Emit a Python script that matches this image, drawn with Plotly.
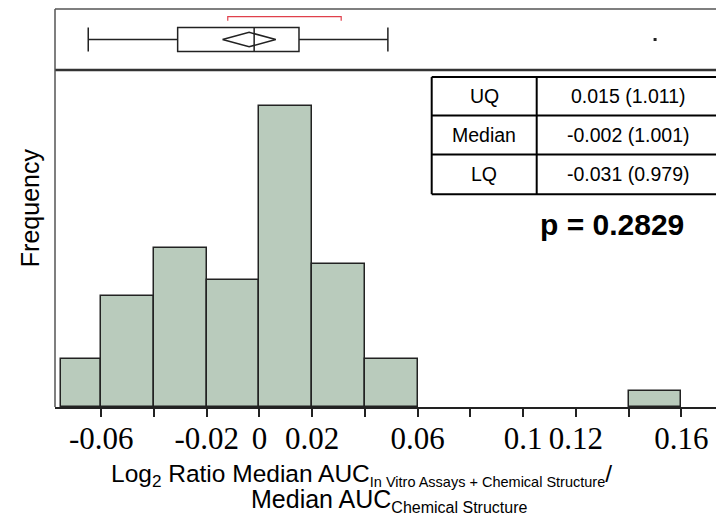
import plotly.graph_objects as go

# Histogram of log2 ratios (bin edges and counts)
bin_left = [-0.0752, -0.06, -0.04, -0.02, 0.00, 0.02, 0.04, 0.14]
bin_right = [-0.06, -0.04, -0.02, 0.00, 0.02, 0.04, 0.06, 0.16]
counts = [3, 7, 10, 8, 19, 9, 3, 1]

# Outlier box plot summary
lower_whisker = -0.0649
lq = -0.031
median = -0.002
uq = 0.015
upper_whisker = 0.0487
outliers = [0.150]
mean_ci = [-0.014, -0.0039, 0.0062]      # lower CI, mean, upper CI
shortest_half = [-0.012, 0.031]

# Axis ticks
tick_vals = [-0.06, -0.04, -0.02, 0.0, 0.02, 0.04, 0.06, 0.08, 0.10, 0.12, 0.14, 0.16]
tick_text = ["-0.06", "", "-0.02", "0", "0.02", "", "0.06", "", "0.1", "0.12", "", "0.16"]

# Summary table
row_names = ["UQ", "Median", "LQ"]
row_values = ["0.015 (1.011)", "-0.002 (1.001)", "-0.031 (0.979)"]
p_text = "p = 0.2829"

W, H = 716, 531
L, R, T, B = 55, 716, 9, 406.7
SEP = 70.0


def px(xp):
    return (xp - L) / (R - L)


def py(yp):
    return (B - yp) / (B - T)


centers = [(a + b) / 2 for a, b in zip(bin_left, bin_right)]
widths = [b - a for a, b in zip(bin_left, bin_right)]

fig = go.Figure()

fig.add_trace(go.Bar(
    x=centers, y=counts, width=widths,
    marker=dict(color="#b9cbbc", line=dict(color="#222222", width=1.5)),
    xaxis="x", yaxis="y", showlegend=False, hoverinfo="skip",
))

fig.add_trace(go.Box(
    orientation="h", y=[0],
    q1=[lq], median=[median], q3=[uq],
    lowerfence=[lower_whisker], upperfence=[upper_whisker],
    fillcolor="white", line=dict(color="#222222", width=1.5),
    whiskerwidth=1, width=0.79, boxpoints=False,
    xaxis="x", yaxis="y2", showlegend=False, hoverinfo="skip",
))

# mean diamond
lo, mu, hi = mean_ci
fig.add_trace(go.Scatter(
    x=[lo, mu, hi, mu, lo], y=[0, 0.236, 0, -0.236, 0],
    mode="lines", line=dict(color="#222222", width=1.5),
    xaxis="x", yaxis="y2", showlegend=False, hoverinfo="skip",
))

# shortest half bracket
fig.add_trace(go.Scatter(
    x=[shortest_half[0], shortest_half[0], shortest_half[1], shortest_half[1]],
    y=[0.616, 0.748, 0.748, 0.616],
    mode="lines", line=dict(color="#e0404c", width=1.2),
    xaxis="x", yaxis="y2", showlegend=False, hoverinfo="skip",
))

fig.add_trace(go.Scatter(
    x=outliers, y=[0] * len(outliers), mode="markers",
    marker=dict(symbol="square", size=3, color="#222222"),
    xaxis="x", yaxis="y2", showlegend=False, hoverinfo="skip",
))

split = py(SEP)
x_lo = -0.0775
x_hi = x_lo + (R - L) / 2637.7

fig.update_layout(
    width=W, height=H,
    margin=dict(l=L, r=W - R, t=T, b=H - B),
    plot_bgcolor="white", paper_bgcolor="white",
    bargap=0,
    xaxis=dict(
        range=[x_lo, x_hi], tickvals=tick_vals, ticktext=tick_text,
        ticks="outside", ticklen=8, tickwidth=1.5, tickcolor="#222222",
        showline=True, linecolor="#222222", linewidth=2,
        showgrid=False, zeroline=False,
        tickfont=dict(family="Liberation Serif", size=31, color="black"),
        ticklabelstandoff=-5,
        anchor="y",
    ),
    yaxis=dict(domain=[0, split], range=[0, 21.26], showticklabels=False,
               showgrid=False, zeroline=False, ticks=""),
    yaxis2=dict(domain=[split, 1], range=[-1, 1], showticklabels=False,
                showgrid=False, zeroline=False, ticks=""),
)

shapes = [
    dict(type="line", xref="paper", yref="paper", x0=0, x1=1, y0=1, y1=1,
         line=dict(color="#555555", width=1.5)),
    dict(type="line", xref="paper", yref="paper", x0=0, x1=1, y0=split, y1=split,
         line=dict(color="#333333", width=2.5)),
    dict(type="line", xref="paper", yref="paper", x0=0, x1=0, y0=0, y1=1,
         line=dict(color="#555555", width=1.5)),
]

# summary table grid
tx0, tx1, tx2 = 431.7, 536.7, 720
rows_y = [77, 115.5, 154.5, 194]
for yy in rows_y:
    shapes.append(dict(type="line", xref="paper", yref="paper",
                       x0=px(tx0), x1=px(tx2), y0=py(yy), y1=py(yy),
                       line=dict(color="black", width=2)))
for xx in (tx0, tx1):
    shapes.append(dict(type="line", xref="paper", yref="paper",
                       x0=px(xx), x1=px(xx), y0=py(rows_y[0]), y1=py(rows_y[-1]),
                       line=dict(color="black", width=2)))
fig.update_layout(shapes=shapes)

ann = []
for i, (nm, val) in enumerate(zip(row_names, row_values)):
    yc = (rows_y[i] + rows_y[i + 1]) / 2
    ann.append(dict(text=nm, x=px(484), y=py(yc), xref="paper", yref="paper",
                    showarrow=False, xanchor="center", yanchor="middle",
                    font=dict(family="Liberation Sans", size=19.5, color="black")))
    ann.append(dict(text=val, x=px(628), y=py(yc), xref="paper", yref="paper",
                    showarrow=False, xanchor="center", yanchor="middle",
                    font=dict(family="Liberation Sans", size=19.5, color="black")))
ann.append(dict(text="<b>" + p_text + "</b>", x=px(612), y=py(224),
                xref="paper", yref="paper", showarrow=False,
                xanchor="center", yanchor="middle",
                font=dict(family="Liberation Sans", size=30, color="black")))
ann.append(dict(text="Frequency", x=px(30), y=py(208), xref="paper", yref="paper",
                showarrow=False, textangle=-90, xanchor="center", yanchor="middle",
                font=dict(family="Liberation Sans", size=25, color="black")))
sub1 = "<sub><span style='font-size:14.5px'>In Vitro Assays + Chemical Structure</span></sub>"
sub2 = "<sub><span style='font-size:16px'>Chemical Structure</span></sub>"
ann.append(dict(text="Log<sub>2</sub> Ratio Median AUC" + sub1 + "/",
                x=px(361), y=py(475), xref="paper", yref="paper", showarrow=False,
                xanchor="center", yanchor="middle",
                font=dict(family="Liberation Sans", size=24.5, color="black")))
ann.append(dict(text="Median AUC" + sub2,
                x=px(390), y=py(500), xref="paper", yref="paper", showarrow=False,
                xanchor="center", yanchor="middle",
                font=dict(family="Liberation Sans", size=25, color="black")))
fig.update_layout(annotations=ann)

fig.write_html("out.html")
